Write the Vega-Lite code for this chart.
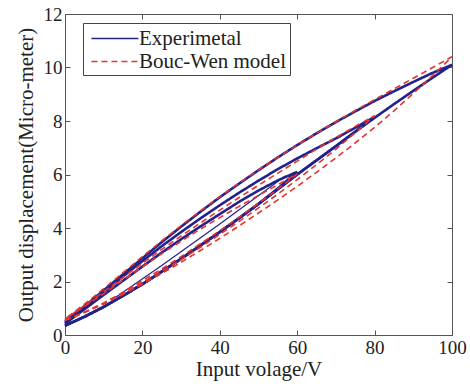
{
 "$schema": "https://vega.github.io/schema/vega-lite/v6.json",
 "width": 387, "height": 321,
 "autosize": {"type": "none"},
 "padding": {"left": 65, "top": 14, "right": 18, "bottom": 53},
 "background": "white",
 "config": {
  "view": {"stroke": "#555", "strokeWidth": 1},
  "font": "Liberation Serif",
  "axis": {"labelFont": "Liberation Serif", "labelFontSize": 19, "labelColor": "#222", "titleFont": "Liberation Serif", "titleFontSize": 21, "titleFontWeight": "normal", "titleColor": "#222", "domainColor": "#555", "tickColor": "#555", "tickSize": -5, "grid": false, "labelFlush": false, "labelOverlap": false},
  "legend": {"orient": "none", "legendX": 18, "legendY": 9, "strokeColor": "#444", "fillColor": "white", "padding": 3, "labelFont": "Liberation Serif", "labelFontSize": 21, "labelColor": "#222", "symbolType": "M-0.6,0H3.4", "symbolSize": 550, "symbolStrokeWidth": 1.5, "rowPadding": 0, "labelOffset": 28}
 },
 "data": {"values": [
  {"s":"Experimetal","l":"thin","i":0,"x":12,"y":1.3},{"s":"Experimetal","l":"thin","i":1,"x":25,"y":2.6},{"s":"Experimetal","l":"thin","i":2,"x":40,"y":4.15},{"s":"Experimetal","l":"thin","i":3,"x":57,"y":5.95},
  {"s":"Experimetal","l":"e60","i":0,"x":0,"y":0.35},{"s":"Experimetal","l":"e60","i":1,"x":5,"y":0.68},{"s":"Experimetal","l":"e60","i":2,"x":10,"y":1.05},{"s":"Experimetal","l":"e60","i":3,"x":15,"y":1.47},{"s":"Experimetal","l":"e60","i":4,"x":20,"y":1.9},{"s":"Experimetal","l":"e60","i":5,"x":25,"y":2.37},{"s":"Experimetal","l":"e60","i":6,"x":30,"y":2.85},{"s":"Experimetal","l":"e60","i":7,"x":35,"y":3.35},{"s":"Experimetal","l":"e60","i":8,"x":40,"y":3.85},{"s":"Experimetal","l":"e60","i":9,"x":45,"y":4.37},{"s":"Experimetal","l":"e60","i":10,"x":50,"y":4.9},{"s":"Experimetal","l":"e60","i":11,"x":55,"y":5.48},{"s":"Experimetal","l":"e60","i":12,"x":60,"y":6.1},
  {"s":"Experimetal","l":"e60","i":13,"x":55,"y":5.78},{"s":"Experimetal","l":"e60","i":14,"x":50,"y":5.4},{"s":"Experimetal","l":"e60","i":15,"x":45,"y":4.98},{"s":"Experimetal","l":"e60","i":16,"x":40,"y":4.52},{"s":"Experimetal","l":"e60","i":17,"x":35,"y":4.06},{"s":"Experimetal","l":"e60","i":18,"x":30,"y":3.58},{"s":"Experimetal","l":"e60","i":19,"x":25,"y":3.08},{"s":"Experimetal","l":"e60","i":20,"x":20,"y":2.56},{"s":"Experimetal","l":"e60","i":21,"x":15,"y":2.03},{"s":"Experimetal","l":"e60","i":22,"x":10,"y":1.5},{"s":"Experimetal","l":"e60","i":23,"x":5,"y":0.96},{"s":"Experimetal","l":"e60","i":24,"x":0,"y":0.42},
  {"s":"Experimetal","l":"e80","i":0,"x":0,"y":0.35},{"s":"Experimetal","l":"e80","i":1,"x":5,"y":0.68},{"s":"Experimetal","l":"e80","i":2,"x":10,"y":1.05},{"s":"Experimetal","l":"e80","i":3,"x":15,"y":1.47},{"s":"Experimetal","l":"e80","i":4,"x":20,"y":1.9},{"s":"Experimetal","l":"e80","i":5,"x":25,"y":2.37},{"s":"Experimetal","l":"e80","i":6,"x":30,"y":2.85},{"s":"Experimetal","l":"e80","i":7,"x":35,"y":3.35},{"s":"Experimetal","l":"e80","i":8,"x":40,"y":3.85},{"s":"Experimetal","l":"e80","i":9,"x":45,"y":4.37},{"s":"Experimetal","l":"e80","i":10,"x":50,"y":4.9},{"s":"Experimetal","l":"e80","i":11,"x":55,"y":5.45},{"s":"Experimetal","l":"e80","i":12,"x":60,"y":6.0},{"s":"Experimetal","l":"e80","i":13,"x":65,"y":6.53},{"s":"Experimetal","l":"e80","i":14,"x":70,"y":7.06},{"s":"Experimetal","l":"e80","i":15,"x":75,"y":7.6},{"s":"Experimetal","l":"e80","i":16,"x":80,"y":8.15},
  {"s":"Experimetal","l":"e80","i":17,"x":75,"y":7.75},{"s":"Experimetal","l":"e80","i":18,"x":70,"y":7.35},{"s":"Experimetal","l":"e80","i":19,"x":65,"y":6.98},{"s":"Experimetal","l":"e80","i":20,"x":60,"y":6.6},{"s":"Experimetal","l":"e80","i":21,"x":55,"y":6.2},{"s":"Experimetal","l":"e80","i":22,"x":50,"y":5.77},{"s":"Experimetal","l":"e80","i":23,"x":45,"y":5.32},{"s":"Experimetal","l":"e80","i":24,"x":40,"y":4.85},{"s":"Experimetal","l":"e80","i":25,"x":35,"y":4.36},{"s":"Experimetal","l":"e80","i":26,"x":30,"y":3.85},{"s":"Experimetal","l":"e80","i":27,"x":25,"y":3.32},{"s":"Experimetal","l":"e80","i":28,"x":20,"y":2.76},{"s":"Experimetal","l":"e80","i":29,"x":15,"y":2.19},{"s":"Experimetal","l":"e80","i":30,"x":10,"y":1.6},{"s":"Experimetal","l":"e80","i":31,"x":5,"y":1.02},{"s":"Experimetal","l":"e80","i":32,"x":0,"y":0.45},
  {"s":"Experimetal","l":"e100","i":0,"x":0,"y":0.35},{"s":"Experimetal","l":"e100","i":1,"x":5,"y":0.68},{"s":"Experimetal","l":"e100","i":2,"x":10,"y":1.05},{"s":"Experimetal","l":"e100","i":3,"x":15,"y":1.47},{"s":"Experimetal","l":"e100","i":4,"x":20,"y":1.9},{"s":"Experimetal","l":"e100","i":5,"x":25,"y":2.37},{"s":"Experimetal","l":"e100","i":6,"x":30,"y":2.85},{"s":"Experimetal","l":"e100","i":7,"x":35,"y":3.35},{"s":"Experimetal","l":"e100","i":8,"x":40,"y":3.85},{"s":"Experimetal","l":"e100","i":9,"x":45,"y":4.37},{"s":"Experimetal","l":"e100","i":10,"x":50,"y":4.9},{"s":"Experimetal","l":"e100","i":11,"x":55,"y":5.45},{"s":"Experimetal","l":"e100","i":12,"x":60,"y":6.0},{"s":"Experimetal","l":"e100","i":13,"x":65,"y":6.53},{"s":"Experimetal","l":"e100","i":14,"x":70,"y":7.06},{"s":"Experimetal","l":"e100","i":15,"x":75,"y":7.6},{"s":"Experimetal","l":"e100","i":16,"x":80,"y":8.12},{"s":"Experimetal","l":"e100","i":17,"x":85,"y":8.63},{"s":"Experimetal","l":"e100","i":18,"x":90,"y":9.13},{"s":"Experimetal","l":"e100","i":19,"x":95,"y":9.62},{"s":"Experimetal","l":"e100","i":20,"x":100,"y":10.1},
  {"s":"Experimetal","l":"e100","i":21,"x":95,"y":9.8},{"s":"Experimetal","l":"e100","i":22,"x":90,"y":9.46},{"s":"Experimetal","l":"e100","i":23,"x":85,"y":9.11},{"s":"Experimetal","l":"e100","i":24,"x":80,"y":8.75},{"s":"Experimetal","l":"e100","i":25,"x":75,"y":8.36},{"s":"Experimetal","l":"e100","i":26,"x":70,"y":7.96},{"s":"Experimetal","l":"e100","i":27,"x":65,"y":7.54},{"s":"Experimetal","l":"e100","i":28,"x":60,"y":7.1},{"s":"Experimetal","l":"e100","i":29,"x":55,"y":6.64},{"s":"Experimetal","l":"e100","i":30,"x":50,"y":6.16},{"s":"Experimetal","l":"e100","i":31,"x":45,"y":5.66},{"s":"Experimetal","l":"e100","i":32,"x":40,"y":5.15},{"s":"Experimetal","l":"e100","i":33,"x":35,"y":4.61},{"s":"Experimetal","l":"e100","i":34,"x":30,"y":4.05},{"s":"Experimetal","l":"e100","i":35,"x":25,"y":3.47},{"s":"Experimetal","l":"e100","i":36,"x":20,"y":2.87},{"s":"Experimetal","l":"e100","i":37,"x":15,"y":2.27},{"s":"Experimetal","l":"e100","i":38,"x":10,"y":1.67},{"s":"Experimetal","l":"e100","i":39,"x":5,"y":1.07},{"s":"Experimetal","l":"e100","i":40,"x":0,"y":0.5},
  {"s":"Bouc-Wen model","l":"m60","i":0,"x":0,"y":0.55},{"s":"Bouc-Wen model","l":"m60","i":1,"x":5,"y":0.85},{"s":"Bouc-Wen model","l":"m60","i":2,"x":10,"y":1.2},{"s":"Bouc-Wen model","l":"m60","i":3,"x":15,"y":1.6},{"s":"Bouc-Wen model","l":"m60","i":4,"x":20,"y":2.03},{"s":"Bouc-Wen model","l":"m60","i":5,"x":25,"y":2.47},{"s":"Bouc-Wen model","l":"m60","i":6,"x":30,"y":2.93},{"s":"Bouc-Wen model","l":"m60","i":7,"x":35,"y":3.41},{"s":"Bouc-Wen model","l":"m60","i":8,"x":40,"y":3.9},{"s":"Bouc-Wen model","l":"m60","i":9,"x":45,"y":4.4},{"s":"Bouc-Wen model","l":"m60","i":10,"x":50,"y":4.92},{"s":"Bouc-Wen model","l":"m60","i":11,"x":55,"y":5.46},{"s":"Bouc-Wen model","l":"m60","i":12,"x":60,"y":6.02},
  {"s":"Bouc-Wen model","l":"m60","i":13,"x":55,"y":5.62},{"s":"Bouc-Wen model","l":"m60","i":14,"x":50,"y":5.22},{"s":"Bouc-Wen model","l":"m60","i":15,"x":45,"y":4.81},{"s":"Bouc-Wen model","l":"m60","i":16,"x":40,"y":4.39},{"s":"Bouc-Wen model","l":"m60","i":17,"x":35,"y":3.96},{"s":"Bouc-Wen model","l":"m60","i":18,"x":30,"y":3.51},{"s":"Bouc-Wen model","l":"m60","i":19,"x":25,"y":3.04},{"s":"Bouc-Wen model","l":"m60","i":20,"x":20,"y":2.55},{"s":"Bouc-Wen model","l":"m60","i":21,"x":15,"y":2.05},{"s":"Bouc-Wen model","l":"m60","i":22,"x":10,"y":1.55},{"s":"Bouc-Wen model","l":"m60","i":23,"x":5,"y":1.07},{"s":"Bouc-Wen model","l":"m60","i":24,"x":0,"y":0.6},
  {"s":"Bouc-Wen model","l":"m80","i":0,"x":0,"y":0.55},{"s":"Bouc-Wen model","l":"m80","i":1,"x":5,"y":0.85},{"s":"Bouc-Wen model","l":"m80","i":2,"x":10,"y":1.18},{"s":"Bouc-Wen model","l":"m80","i":3,"x":15,"y":1.56},{"s":"Bouc-Wen model","l":"m80","i":4,"x":20,"y":1.96},{"s":"Bouc-Wen model","l":"m80","i":5,"x":25,"y":2.38},{"s":"Bouc-Wen model","l":"m80","i":6,"x":30,"y":2.82},{"s":"Bouc-Wen model","l":"m80","i":7,"x":35,"y":3.28},{"s":"Bouc-Wen model","l":"m80","i":8,"x":40,"y":3.76},{"s":"Bouc-Wen model","l":"m80","i":9,"x":45,"y":4.25},{"s":"Bouc-Wen model","l":"m80","i":10,"x":50,"y":4.75},{"s":"Bouc-Wen model","l":"m80","i":11,"x":55,"y":5.27},{"s":"Bouc-Wen model","l":"m80","i":12,"x":60,"y":5.81},{"s":"Bouc-Wen model","l":"m80","i":13,"x":65,"y":6.37},{"s":"Bouc-Wen model","l":"m80","i":14,"x":70,"y":6.95},{"s":"Bouc-Wen model","l":"m80","i":15,"x":75,"y":7.56},{"s":"Bouc-Wen model","l":"m80","i":16,"x":80,"y":8.2},
  {"s":"Bouc-Wen model","l":"m80","i":17,"x":75,"y":7.8},{"s":"Bouc-Wen model","l":"m80","i":18,"x":70,"y":7.38},{"s":"Bouc-Wen model","l":"m80","i":19,"x":65,"y":6.95},{"s":"Bouc-Wen model","l":"m80","i":20,"x":60,"y":6.5},{"s":"Bouc-Wen model","l":"m80","i":21,"x":55,"y":6.05},{"s":"Bouc-Wen model","l":"m80","i":22,"x":50,"y":5.6},{"s":"Bouc-Wen model","l":"m80","i":23,"x":45,"y":5.14},{"s":"Bouc-Wen model","l":"m80","i":24,"x":40,"y":4.67},{"s":"Bouc-Wen model","l":"m80","i":25,"x":35,"y":4.19},{"s":"Bouc-Wen model","l":"m80","i":26,"x":30,"y":3.7},{"s":"Bouc-Wen model","l":"m80","i":27,"x":25,"y":3.2},{"s":"Bouc-Wen model","l":"m80","i":28,"x":20,"y":2.68},{"s":"Bouc-Wen model","l":"m80","i":29,"x":15,"y":2.15},{"s":"Bouc-Wen model","l":"m80","i":30,"x":10,"y":1.62},{"s":"Bouc-Wen model","l":"m80","i":31,"x":5,"y":1.1},{"s":"Bouc-Wen model","l":"m80","i":32,"x":0,"y":0.6},
  {"s":"Bouc-Wen model","l":"m100","i":0,"x":0,"y":0.55},{"s":"Bouc-Wen model","l":"m100","i":1,"x":5,"y":0.84},{"s":"Bouc-Wen model","l":"m100","i":2,"x":10,"y":1.16},{"s":"Bouc-Wen model","l":"m100","i":3,"x":15,"y":1.52},{"s":"Bouc-Wen model","l":"m100","i":4,"x":20,"y":1.9},{"s":"Bouc-Wen model","l":"m100","i":5,"x":25,"y":2.3},{"s":"Bouc-Wen model","l":"m100","i":6,"x":30,"y":2.72},{"s":"Bouc-Wen model","l":"m100","i":7,"x":35,"y":3.16},{"s":"Bouc-Wen model","l":"m100","i":8,"x":40,"y":3.61},{"s":"Bouc-Wen model","l":"m100","i":9,"x":45,"y":4.08},{"s":"Bouc-Wen model","l":"m100","i":10,"x":50,"y":4.56},{"s":"Bouc-Wen model","l":"m100","i":11,"x":55,"y":5.05},{"s":"Bouc-Wen model","l":"m100","i":12,"x":60,"y":5.56},{"s":"Bouc-Wen model","l":"m100","i":13,"x":65,"y":6.08},{"s":"Bouc-Wen model","l":"m100","i":14,"x":70,"y":6.62},{"s":"Bouc-Wen model","l":"m100","i":15,"x":75,"y":7.18},{"s":"Bouc-Wen model","l":"m100","i":16,"x":80,"y":7.76},{"s":"Bouc-Wen model","l":"m100","i":17,"x":85,"y":8.38},{"s":"Bouc-Wen model","l":"m100","i":18,"x":90,"y":9.03},{"s":"Bouc-Wen model","l":"m100","i":19,"x":95,"y":9.7},{"s":"Bouc-Wen model","l":"m100","i":20,"x":100,"y":10.4},
  {"s":"Bouc-Wen model","l":"m100","i":21,"x":95,"y":10.0},{"s":"Bouc-Wen model","l":"m100","i":22,"x":90,"y":9.6},{"s":"Bouc-Wen model","l":"m100","i":23,"x":85,"y":9.2},{"s":"Bouc-Wen model","l":"m100","i":24,"x":80,"y":8.8},{"s":"Bouc-Wen model","l":"m100","i":25,"x":75,"y":8.39},{"s":"Bouc-Wen model","l":"m100","i":26,"x":70,"y":7.97},{"s":"Bouc-Wen model","l":"m100","i":27,"x":65,"y":7.54},{"s":"Bouc-Wen model","l":"m100","i":28,"x":60,"y":7.1},{"s":"Bouc-Wen model","l":"m100","i":29,"x":55,"y":6.64},{"s":"Bouc-Wen model","l":"m100","i":30,"x":50,"y":6.17},{"s":"Bouc-Wen model","l":"m100","i":31,"x":45,"y":5.68},{"s":"Bouc-Wen model","l":"m100","i":32,"x":40,"y":5.17},{"s":"Bouc-Wen model","l":"m100","i":33,"x":35,"y":4.64},{"s":"Bouc-Wen model","l":"m100","i":34,"x":30,"y":4.09},{"s":"Bouc-Wen model","l":"m100","i":35,"x":25,"y":3.52},{"s":"Bouc-Wen model","l":"m100","i":36,"x":20,"y":2.93},{"s":"Bouc-Wen model","l":"m100","i":37,"x":15,"y":2.33},{"s":"Bouc-Wen model","l":"m100","i":38,"x":10,"y":1.73},{"s":"Bouc-Wen model","l":"m100","i":39,"x":5,"y":1.15},{"s":"Bouc-Wen model","l":"m100","i":40,"x":0,"y":0.6}
 ]},
 "layer": [
  {
   "transform": [{"filter": "datum.l == 'thin'"}],
   "mark": {"type": "line", "strokeWidth": 1.2, "color": "#22228c"},
   "encoding": {
    "x": {"field": "x", "type": "quantitative", "scale": {"domain": [0, 100], "nice": false}, "axis": null},
    "y": {"field": "y", "type": "quantitative", "scale": {"domain": [0, 12], "nice": false}, "axis": null},
    "order": {"field": "i"}
   }
  },
  {
   "transform": [{"filter": "datum.s == 'Experimetal' && datum.l != 'thin'"}],
   "mark": {"type": "line", "strokeWidth": 2.6},
   "encoding": {
    "x": {"field": "x", "type": "quantitative", "axis": {"orient": "bottom", "values": [0, 20, 40, 60, 80, 100], "title": "Input volage/V", "labelPadding": 8, "titlePadding": 1}},
    "y": {"field": "y", "type": "quantitative", "axis": {"orient": "left", "values": [0, 2, 4, 6, 8, 10, 12], "title": "Output displacement(Micro-meter)", "labelPadding": 8, "titlePadding": 7}},
    "color": {"field": "s", "type": "nominal", "scale": {"domain": ["Experimetal", "Bouc-Wen model"], "range": ["#22228c", "#e3342f"]}, "legend": {"title": null}},
    "strokeDash": {"field": "s", "type": "nominal", "scale": {"domain": ["Experimetal", "Bouc-Wen model"], "range": [[1, 0], [6, 4]]}, "legend": {"title": null}},
    "detail": {"field": "l"},
    "order": {"field": "i"}
   }
  },
  {
   "transform": [{"filter": "datum.s == 'Bouc-Wen model'"}],
   "mark": {"type": "line", "strokeWidth": 1.6},
   "encoding": {
    "x": {"field": "x", "type": "quantitative", "axis": null},
    "y": {"field": "y", "type": "quantitative", "axis": null},
    "color": {"field": "s", "type": "nominal", "legend": {"title": null}},
    "strokeDash": {"field": "s", "type": "nominal", "legend": {"title": null}},
    "detail": {"field": "l"},
    "order": {"field": "i"}
   }
  },
  {
   "transform": [{"filter": "datum.l == 'thin'"}],
   "mark": {"type": "line", "opacity": 0},
   "encoding": {
    "x": {"field": "x", "type": "quantitative", "axis": {"orient": "top", "values": [0, 20, 40, 60, 80, 100], "labels": false, "title": null, "domain": false}},
    "y": {"field": "y", "type": "quantitative", "axis": {"orient": "right", "values": [0, 2, 4, 6, 8, 10, 12], "labels": false, "title": null, "domain": false}},
    "order": {"field": "i"}
   }
  }
 ],
 "resolve": {"axis": {"x": "independent", "y": "independent"}}
}
